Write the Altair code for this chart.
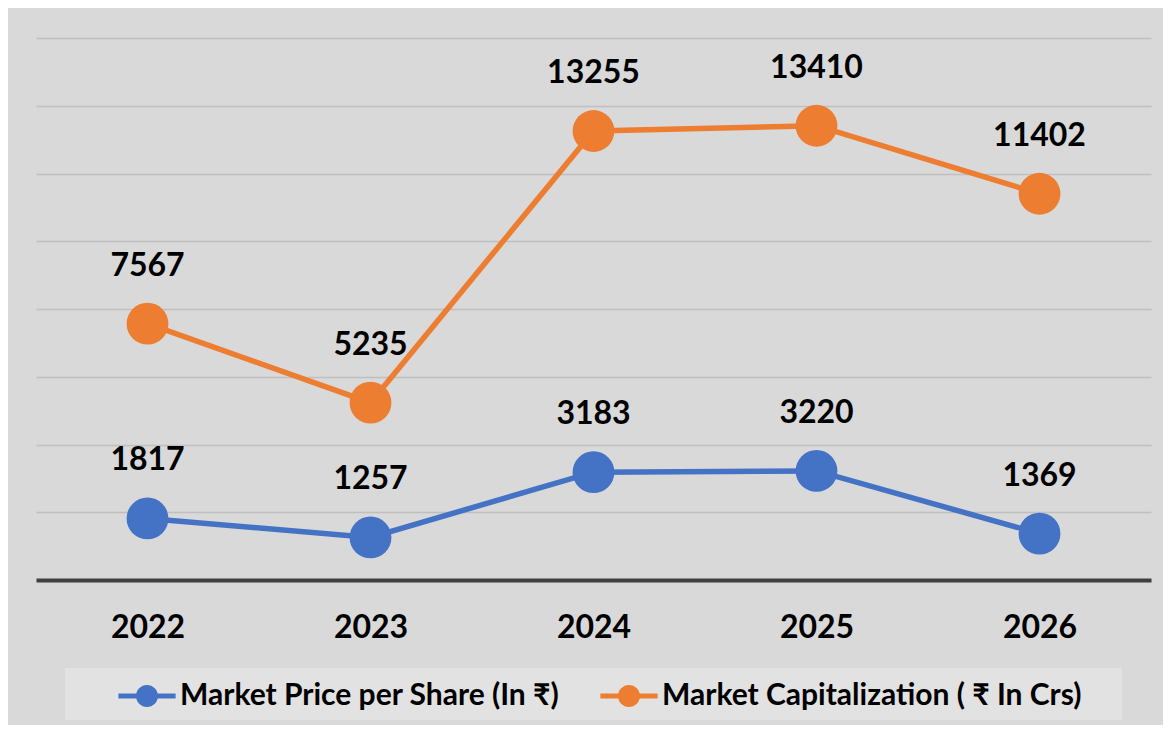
import altair as alt
import pandas as pd

years = ["2022", "2023", "2024", "2025", "2026"]
price_per_share = [1817, 1257, 3183, 3220, 1369]
market_cap = [7567, 5235, 13255, 13410, 11402]
series_names = ["Market Price per Share (In ₹)", "Market Capitalization ( ₹ In Crs)"]
series_colors = ["#4472C4", "#ED7D31"]
grid_values = [0, 2000, 4000, 6000, 8000, 10000, 12000, 14000, 16000]

df = pd.DataFrame({
    "year": years * 2,
    "value": price_per_share + market_cap,
    "series": [series_names[0]] * len(years) + [series_names[1]] * len(years),
})

FONT = "Lato"

x_enc = alt.X(
    "year:O", sort=years, scale=alt.Scale(type="point", padding=0.5),
    axis=alt.Axis(title=None, labelAngle=0, labelFont=FONT, labelFontSize=32,
                  labelFontWeight="bold", labelColor="#000000", ticks=False,
                  domainColor="#404040", domainWidth=4, grid=False, labelPadding=32),
)
y_enc = alt.Y(
    "value:Q", scale=alt.Scale(domain=[0, 16000], nice=False, zero=True),
    axis=alt.Axis(title=None, labels=False, ticks=False, domain=False, grid=True,
                  values=grid_values, gridColor="#bfbfbf", gridWidth=1.5),
)

legend_symbol = ("M-2.6,-0.22 L-0.9,-0.22 L-0.9,0.22 L-2.6,0.22 Z "
                 "M0.9,-0.22 L2.6,-0.22 L2.6,0.22 L0.9,0.22 Z "
                 "M-1,0 A1,1 0 1,1 1,0 A1,1 0 1,1 -1,0 Z")

legend = alt.Legend(
    orient="none", legendX=68, legendY=643, direction="horizontal", title=None,
    symbolType=legend_symbol, symbolSize=484, symbolOffset=28, symbolOpacity=1,
    symbolStrokeWidth=0, labelOffset=18, labelFont=FONT, labelFontSize=30,
    labelFontWeight="bold", labelColor="#000000", labelLimit=1000, columnPadding=26,
    padding=0,
)

color_scale = alt.Scale(domain=series_names, range=series_colors)

bg = alt.Chart(pd.DataFrame({"k": [0]})).mark_rect(color="#e2e2e2").encode(
    x=alt.value(29), x2=alt.value(1086), y=alt.value(630), y2=alt.value(682)
)

base = alt.Chart(df)

lines = base.mark_line(strokeWidth=5.5).encode(
    x=x_enc, y=y_enc,
    color=alt.Color("series:N", scale=color_scale, legend=legend),
)

points = base.mark_circle(size=1750, opacity=1).encode(
    x=x_enc, y=y_enc,
    color=alt.Color("series:N", scale=color_scale, legend=legend),
)

labels = base.mark_text(
    font=FONT, fontSize=32, fontWeight="bold", color="#000000",
    baseline="middle", align="center", dy=-58,
).encode(x=x_enc, y=y_enc, text=alt.Text("value:Q", format="d"))

chart = alt.layer(bg, lines, points, labels).properties(
    width=1115, height=542,
    autosize=alt.AutoSizeParams(type="none"),
    padding={"left": 28, "top": 30, "right": 12, "bottom": 145},
    background="#d9d9d9",
).configure_view(strokeWidth=0)

chart.save("out.html", embed_options={"renderer": "svg", "actions": False})
